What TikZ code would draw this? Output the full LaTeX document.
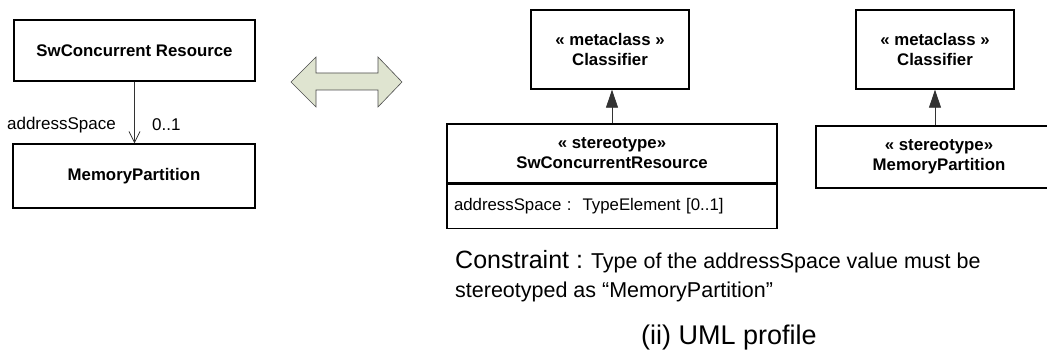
\documentclass[tikz,border=0pt]{standalone}
\usepackage{fontspec}
\setmainfont{Liberation Sans}
\usetikzlibrary{positioning, calc, arrows.meta}

\definecolor{dblfill}{RGB}{223,228,208}

\begin{document}
\begin{tikzpicture}[x=1pt, y=-1pt,
    classbox/.style={draw, line width=1.4pt, inner sep=0pt, align=center,
        font=\fontsize{16.8}{20}\selectfont\bfseries},
    attrbox/.style={draw, line width=1.4pt, inner sep=7pt, align=left,
        font=\fontsize{16.8}{20}\selectfont},
    assoc/.style={draw=black!80, line width=0.8pt, -{Straight Barb[length=11pt,width=11pt]}},
    extend/.style={draw=black!80, line width=0.8pt, -{Triangle[length=18pt,width=12pt]}},
    lbl/.style={font=\fontsize{17}{20}\selectfont, inner sep=0pt}]

    % Frame
    \useasboundingbox (0,0) rectangle (1047,352);
    \clip (0,0) rectangle (1047,352);

    % Left: the association
    \node[classbox, minimum width=241pt, minimum height=61pt] (swres) at (134.5,50.5) {SwConcurrent Resource};
    \node[classbox, minimum width=242pt, minimum height=64pt] (mempart) at (134,176) {MemoryPartition};
    \draw[assoc] (swres.south) -- (swres.south |- mempart.north);
    \node[lbl, anchor=east] (asp) at (116,125) {addressSpace};
    \node[lbl, anchor=west] (mult) at (152,125) {0..1};

    % Double arrow
    \draw[fill=dblfill, draw=black!70, line width=0.6pt]
        (291,82) -- (316,57) -- (316,73) -- (378,73) -- (378,57) -- (402,82)
        -- (378,107) -- (378,90) -- (316,90) -- (316,107) -- cycle;

    % Right: the profile
    \node[classbox, minimum width=158pt, minimum height=79pt] (meta1) at (610,49.5) {« metaclass »\\Classifier};
    \node[classbox, minimum width=330pt, minimum height=59pt] (stswres) at (612,153.5) {« stereotype»\\SwConcurrentResource};
    \node[attrbox, text width=316pt, minimum height=44pt, below=0pt of stswres] (stattr) {addressSpace :\hspace{0.65em}TypeElement [0..1]};
    \draw[extend] (stswres.north) -- (stswres.north |- meta1.south);

    \node[classbox, minimum width=158pt, minimum height=79pt] (meta2) at (935,49.5) {« metaclass »\\Classifier};
    \node[classbox, minimum width=246pt, minimum height=62pt] (stmem) at (939,157) {« stereotype»\\MemoryPartition};
    \draw[extend] (stmem.north -| meta2.south) -- (meta2.south);

    % Constraint text
    \node[anchor=base west, inner sep=0pt] (cnstr) at (455,269)
        {\fontsize{25}{30}\selectfont Constraint :\fontsize{21.5}{25}\selectfont{} Type of the addressSpace value must be};
    \node[anchor=base west, inner sep=0pt, font=\fontsize{21.5}{25}\selectfont] (cnstr2) at (455,298)
        {stereotyped as “MemoryPartition”};

    % Caption
    \node[anchor=base, inner sep=0pt, font=\fontsize{27}{32}\selectfont] (capt) at (729,345) {(ii) UML profile};

\end{tikzpicture}
\end{document}
